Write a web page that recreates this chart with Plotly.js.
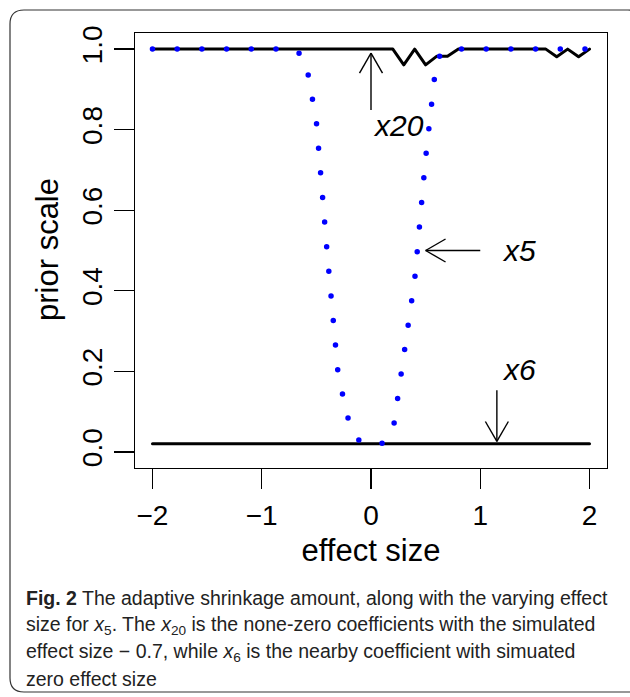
<!DOCTYPE html>
<html>
<head>
<meta charset="utf-8">
<script src="https://cdn.plot.ly/plotly-3.0.1.min.js"></script>
<style>
  html, body { margin: 0; padding: 0; background: #ffffff; }
  #chart { width: 630px; height: 697px; }
  .scatterlayer .js-line { stroke-linecap: round !important; stroke-linejoin: round !important; }
</style>
</head>
<body>
<div id="chart"></div>
<script>
// ---- data ----
const effectSize = [-2.0,-1.9,-1.8,-1.7,-1.6,-1.5,-1.4,-1.3,-1.2,-1.1,-1.0,-0.9,-0.8,-0.7,-0.6,-0.5,-0.4,-0.3,-0.2,-0.1,
                    0.0,0.1,0.2,0.3,0.4,0.5,0.6,0.7,0.8,0.9,1.0,1.1,1.2,1.3,1.4,1.5,1.6,1.7,1.8,1.9,2.0];
const priorX5  = [1,1,1,1,1,1,1,1,1,1,1,1,1,1,0.975,0.82,0.49,0.19,0.072,0.024,
                  0.02,0.021,0.05,0.238,0.428,0.73,0.975,1,1,1,1,1,1,1,1,1,1,1,1,1,1];
const priorX20 = [1,1,1,1,1,1,1,1,1,1,1,1,1,1,1,1,1,1,1,1,
                  1,1,1,0.961,1,0.961,0.982,0.982,1,1,1,1,1,1,1,1,1,0.981,1,0.981,1];
const priorX6  = [0.02,0.02,0.02,0.02,0.02,0.02,0.02,0.02,0.02,0.02,0.02,0.02,0.02,0.02,0.02,0.02,0.02,0.02,0.02,0.02,
                  0.02,0.02,0.02,0.02,0.02,0.02,0.02,0.02,0.02,0.02,0.02,0.02,0.02,0.02,0.02,0.02,0.02,0.02,0.02,0.02,0.02];
const xTicks = [-2,-1,0,1,2];
const yTicks = [0,0.2,0.4,0.6,0.8,1.0];
const yTickText = ["0.0","0.2","0.4","0.6","0.8","1.0"];
const xTitle = "effect size";
const yTitle = "prior scale";
// arrows: tail -> tip, and their labels
const arrowNames = ["x20","x5","x6"];
const arrowTailX = [0.0, 1.0, 1.152];
const arrowTailY = [0.849, 0.5, 0.153];
const arrowTipX  = [0.0, 0.5, 1.152];
const arrowTipY  = [0.99, 0.5, 0.026];
const labelX = [0.252, 1.35, 1.35];
const labelY = [0.81, 0.5, 0.205];
const captionLines = [
  "<b>Fig. 2</b> The adaptive shrinkage amount, along with the varying effect",
  "size for <i>x</i><sub>5</sub>. The <i>x</i><sub>20</sub> is the none-zero coefficients with the simulated",
  "effect size \u2212 0.7, while <i>x</i><sub>6</sub> is the nearby coefficient with simuated",
  "zero effect size"
];

// ---- layout geometry ----
const W = 630, H = 697;
const M = {l: 135, r: 23, t: 33, b: 229};
const plotW = W - M.l - M.r, plotH = H - M.t - M.b;
const xRange = [-2.16, 2.16], yRange = [-0.04, 1.04];
const pxPerX = plotW / (xRange[1] - xRange[0]);
const pxPerY = plotH / (yRange[1] - yRange[0]);
const px2paperX = p => (p - M.l) / plotW;
const px2paperY = p => (H - M.b - p) / plotH;

const font = "Liberation Sans, Arial, Helvetica, sans-serif";

const traces = [
  {x: effectSize, y: priorX20, type: 'scatter', mode: 'lines', line: {color: '#000000', width: 3}, hoverinfo: 'skip'},
  {x: effectSize, y: priorX6, type: 'scatter', mode: 'lines', line: {color: '#000000', width: 3}, hoverinfo: 'skip'},
  {x: effectSize, y: priorX5, type: 'scatter', mode: 'lines', line: {color: '#0000ff', width: 5.5, dash: '0px,24.7px'}, hoverinfo: 'skip'}
];

const shapes = [];
const annotations = [];
const headLen = 23, headAng = Math.PI / 6;
for (let i = 0; i < arrowNames.length; i++) {
  shapes.push({type: 'line', xref: 'x', yref: 'y', x0: arrowTailX[i], y0: arrowTailY[i], x1: arrowTipX[i], y1: arrowTipY[i],
               line: {color: '#000', width: 1.4}});
  const dx = (arrowTipX[i] - arrowTailX[i]) * pxPerX;
  const dy = -(arrowTipY[i] - arrowTailY[i]) * pxPerY;
  const th = Math.atan2(dy, dx);
  [1, -1].forEach(s => {
    const a = th + Math.PI + s * headAng;
    const ox = headLen * Math.cos(a), oy = headLen * Math.sin(a);
    shapes.push({type: 'line', xref: 'x', yref: 'y', x0: arrowTipX[i], y0: arrowTipY[i],
                 x1: arrowTipX[i] + ox / pxPerX, y1: arrowTipY[i] - oy / pxPerY,
                 line: {color: '#000', width: 1.4}});
  });
  annotations.push({xref: 'x', yref: 'y', x: labelX[i], y: labelY[i], text: '<i>' + arrowNames[i] + '</i>',
                    showarrow: false, font: {family: font, size: 30, color: '#000'}, xanchor: 'center', yanchor: 'middle'});
}

// y-axis title placed as rotated text (exact position)
annotations.push({xref: 'paper', yref: 'paper', x: px2paperX(47), y: px2paperY(250), text: yTitle, textangle: -90,
                  showarrow: false, xanchor: 'center', yanchor: 'middle', font: {family: font, size: 31, color: '#000'}});

// rounded frame around the whole figure
(function () {
  const x0 = 10, y0 = 10, x1 = 642, y1 = 692, r = 14;
  const X = px2paperX, Y = px2paperY;
  const path = `M ${X(x0 + r)},${Y(y0)} L ${X(x1 - r)},${Y(y0)} Q ${X(x1)},${Y(y0)} ${X(x1)},${Y(y0 + r)} ` +
               `L ${X(x1)},${Y(y1 - r)} Q ${X(x1)},${Y(y1)} ${X(x1 - r)},${Y(y1)} L ${X(x0 + r)},${Y(y1)} ` +
               `Q ${X(x0)},${Y(y1)} ${X(x0)},${Y(y1 - r)} L ${X(x0)},${Y(y0 + r)} Q ${X(x0)},${Y(y0)} ${X(x0 + r)},${Y(y0)} Z`;
  shapes.push({type: 'path', xref: 'paper', yref: 'paper', path: path, line: {color: '#333', width: 1.2}, layer: 'below'});
})();

const captionY = [598, 625, 652, 679];
captionLines.forEach((t, i) => {
  annotations.push({xref: 'paper', yref: 'paper', x: px2paperX(24), y: px2paperY(captionY[i]), text: t, showarrow: false,
                    xanchor: 'left', yanchor: 'middle', align: 'left',
                    font: {family: "Liberation Sans Narrow, Liberation Sans, Arial, sans-serif", size: 19.5, color: '#222'}});
});

const layout = {
  width: W, height: H,
  margin: M,
  paper_bgcolor: '#ffffff', plot_bgcolor: '#ffffff',
  showlegend: false,
  font: {family: font, color: '#000'},
  xaxis: {
    range: xRange, tickvals: xTicks, ticks: 'outside', ticklen: 20, tickwidth: 1.4, tickcolor: '#000',
    showline: true, mirror: true, linewidth: 1.4, linecolor: '#000', showgrid: false, zeroline: false,
    tickfont: {family: font, size: 28, color: '#000'}, ticklabelstandoff: 2,
    title: {text: xTitle, font: {family: font, size: 31, color: '#000'}, standoff: 9}
  },
  yaxis: {
    range: yRange, tickvals: yTicks, ticktext: yTickText, ticks: 'outside', ticklen: 20, tickwidth: 1.4, tickcolor: '#000',
    showline: true, mirror: true, linewidth: 1.4, linecolor: '#000', showgrid: false, zeroline: false,
    tickangle: -90, tickfont: {family: font, size: 28, color: '#000'}, ticklabelstandoff: 0
  },
  shapes: shapes,
  annotations: annotations
};

Plotly.newPlot('chart', traces, layout, {displayModeBar: false, staticPlot: true});
</script>
</body>
</html>
